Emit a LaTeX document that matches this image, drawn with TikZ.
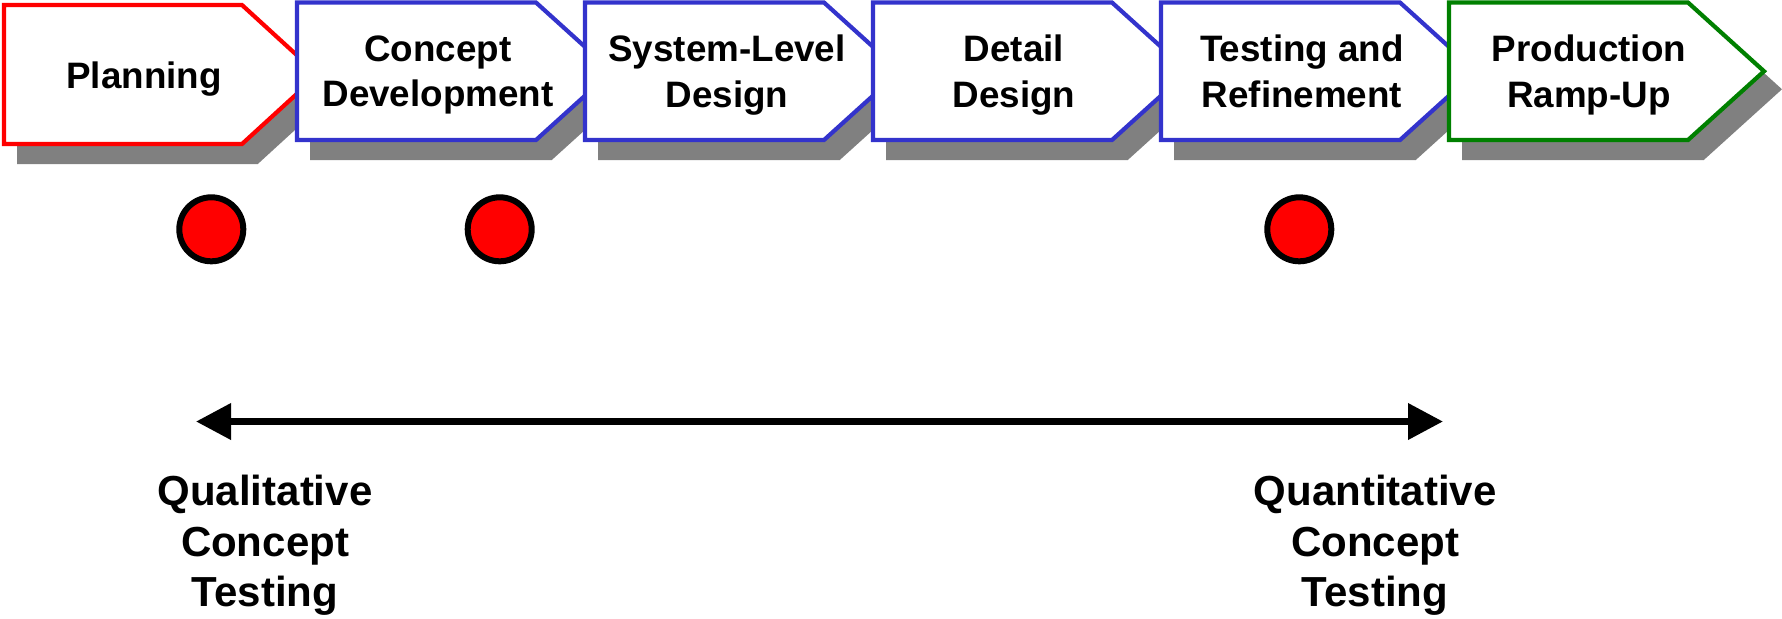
\documentclass[tikz,border=0pt]{standalone}
\usepackage{fontspec}
\setmainfont{Liberation Sans}
\usetikzlibrary{arrows.meta}

\definecolor{planred}{HTML}{FF0000}
\definecolor{stageblue}{HTML}{3333CC}
\definecolor{rampgreen}{HTML}{008000}
\definecolor{shadowgray}{HTML}{808080}

\begin{document}
\begin{tikzpicture}[
  x=0.5pt, y=-0.5pt,
  stageshadow/.style={fill=shadowgray, draw=shadowgray, line width=2pt, shift={(15,18)}},
  stageborder/.style={fill=white, draw=#1, line width=2.1pt},
  stage/.style={font=\bfseries\fontsize{18.4}{22.6}\selectfont, align=center, inner sep=0pt,
    execute at begin node=\strut, execute at end node=\strut},
  dot/.style={circle, fill=red, draw=black, line width=3pt, minimum size=32pt, inner sep=0pt},
  testlabel/.style={font=\bfseries\fontsize{21}{25.4}\selectfont, align=center, inner sep=0pt,
    execute at begin node=\strut, execute at end node=\strut},
  testaxis/.style={<->, >={Triangle[length=17.5pt,width=17.5pt]}, line width=3.5pt}
]
\useasboundingbox (0,0) rectangle (1782,618);

\fill[stageshadow] (4,5) -- (242,5) -- (318,74.5) -- (242,144) -- (4,144) -- cycle;
\draw[stageborder=planred] (4,5) -- (242,5) -- (318,74.5) -- (242,144) -- (4,144) -- cycle;
\fill[stageshadow] (297,2.5) -- (536,2.5) -- (612,71.25) -- (536,140) -- (297,140) -- cycle;
\draw[stageborder=stageblue] (297,2.5) -- (536,2.5) -- (612,71.25) -- (536,140) -- (297,140) -- cycle;
\fill[stageshadow] (585,2.5) -- (824,2.5) -- (900,71.25) -- (824,140) -- (585,140) -- cycle;
\draw[stageborder=stageblue] (585,2.5) -- (824,2.5) -- (900,71.25) -- (824,140) -- (585,140) -- cycle;
\fill[stageshadow] (873,2.5) -- (1112,2.5) -- (1188,71.25) -- (1112,140) -- (873,140) -- cycle;
\draw[stageborder=stageblue] (873,2.5) -- (1112,2.5) -- (1188,71.25) -- (1112,140) -- (873,140) -- cycle;
\fill[stageshadow] (1161,2.5) -- (1400,2.5) -- (1476,71.25) -- (1400,140) -- (1161,140) -- cycle;
\draw[stageborder=stageblue] (1161,2.5) -- (1400,2.5) -- (1476,71.25) -- (1400,140) -- (1161,140) -- cycle;
\fill[stageshadow] (1449,2.5) -- (1688,2.5) -- (1764,71.25) -- (1688,140) -- (1449,140) -- cycle;
\draw[stageborder=rampgreen] (1449,2.5) -- (1688,2.5) -- (1764,71.25) -- (1688,140) -- (1449,140) -- cycle;

\node[stage] (planning) at (144,79.5) {Planning};
\node[stage] (concept) at (438,78) {Concept\\Development};
\node[stage] (system) at (727,78) {System-Level\\Design};
\node[stage] (detail) at (1014,78) {Detail\\Design};
\node[stage] (testing) at (1302,78) {Testing and\\Refinement};
\node[stage] (rampup) at (1589,78) {Production\\Ramp-Up};

\node[dot] (planningdot) at (211.3,229.3) {};
\node[dot] (conceptdot) at (499.7,229.3) {};
\node[dot] (testingdot) at (1299.3,229.3) {};

\coordinate (qualend) at (196,421.5);
\coordinate (quantend) at (1443,421.5);
\draw[testaxis] (qualend) -- (quantend);

\node[testlabel] (qualitative) at (265,548.5) {Qualitative\\Concept\\Testing};
\node[testlabel] (quantitative) at (1375,548.5) {Quantitative\\Concept\\Testing};
\end{tikzpicture}
\end{document}
